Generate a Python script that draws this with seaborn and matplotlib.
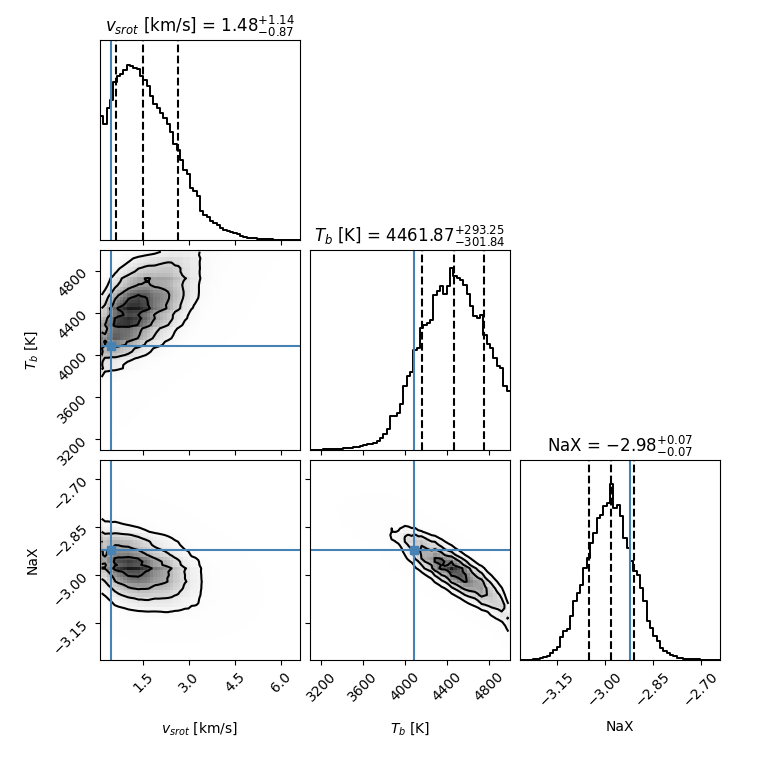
import math
import numpy as np
import pandas as pd
import matplotlib
matplotlib.use("Agg")
import matplotlib.pyplot as plt
from matplotlib.colors import LinearSegmentedColormap
import seaborn as sns

# ---------------- data ----------------
labels = ["$v_{srot}$ [km/s]", "$T_b$ [K]", "NaX"]
title_names = ["$v_{srot}$ [km/s]", "$T_b$ [K]", "NaX"]
medians = [1.48, 4461.87, -2.98]
err_plus = [1.14, 293.25, 0.07]
err_minus = [0.87, 301.84, 0.07]
ranges = [(0.087, 6.61), (3095.0, 5000.0), (-3.265, -2.64)]
truths = [0.45, 4083.0, -2.921]

ticks_vsrot = [1.5, 3.0, 4.5, 6.0]
ticks_tb = [3200, 3600, 4000, 4400, 4800]
ticks_nax = [-3.15, -3.00, -2.85, -2.70]
ticklabels_vsrot = ["1.5", "3.0", "4.5", "6.0"]
ticklabels_tb = ["3200", "3600", "4000", "4400", "4800"]
ticklabels_nax = ["\u22123.15", "\u22123.00", "\u22122.85", "\u22122.70"]

# marginal histograms (60 equal bins over each range), heights as read
hist_vsrot = [0.62, 0.58, 0.66, 0.70, 0.79, 0.82, 0.83, 0.85, 0.875, 0.87,
              0.86, 0.855, 0.82, 0.80, 0.77, 0.72, 0.68, 0.66, 0.635, 0.61,
              0.58, 0.54, 0.48, 0.45, 0.40, 0.35, 0.33, 0.26, 0.245, 0.22,
              0.145, 0.125, 0.115, 0.097, 0.085, 0.075, 0.06, 0.052, 0.045, 0.038,
              0.033, 0.028, 0.022, 0.017, 0.012, 0.010, 0.008, 0.006, 0.005, 0.004,
              0.003, 0.003, 0.002, 0.002, 0.0015, 0.001, 0.001, 0.0008, 0.0005, 0.0003]
hist_tb = [0.001, 0.001, 0.002, 0.002, 0.003, 0.003, 0.004, 0.005, 0.006, 0.007,
           0.008, 0.009, 0.011, 0.013, 0.015, 0.018, 0.024, 0.028, 0.032, 0.036,
           0.045, 0.06, 0.078, 0.105, 0.168, 0.168, 0.185, 0.23, 0.32, 0.37,
           0.39, 0.50, 0.51, 0.61, 0.627, 0.635, 0.652, 0.777, 0.793, 0.818,
           0.78, 0.82, 0.91, 0.868, 0.86, 0.852, 0.827, 0.78, 0.718, 0.668,
           0.66, 0.677, 0.577, 0.53, 0.51, 0.46, 0.42, 0.41, 0.318, 0.293]
hist_nax = [0.001, 0.001, 0.002, 0.002, 0.004, 0.006, 0.010, 0.015, 0.022, 0.035,
            0.052, 0.063, 0.113, 0.143, 0.157, 0.218, 0.293, 0.335, 0.377, 0.46,
            0.51, 0.585, 0.635, 0.71, 0.727, 0.768, 0.785, 0.88, 0.76, 0.775,
            0.72, 0.61, 0.56, 0.493, 0.443, 0.427, 0.36, 0.293, 0.193, 0.16,
            0.118, 0.093, 0.06, 0.043, 0.035, 0.027, 0.018, 0.012, 0.010, 0.007,
            0.005, 0.004, 0.003, 0.003, 0.002, 0.002, 0.001, 0.001, 0.001, 0.001]

rho_tb_vsrot = 0.45
rho_nax_vsrot = -0.30
rho_nax_tb = -0.84

# ---------------- helpers ----------------
hists = [hist_vsrot, hist_tb, hist_nax]
ticks = [ticks_vsrot, ticks_tb, ticks_nax]
ticklabels = [ticklabels_vsrot, ticklabels_tb, ticklabels_nax]
rhos = {(1, 0): rho_tb_vsrot, (2, 0): rho_nax_vsrot, (2, 1): rho_nax_tb}
truth_color = "#4682b4"

zt = np.linspace(-6, 6, 6001)
Ft = np.array([0.5 * math.erfc(-z / math.sqrt(2)) for z in zt])


def grid(k):
    h = np.asarray(hists[k], float)
    lo, hi = ranges[k]
    edges = np.linspace(lo, hi, len(h) + 1)
    centers = 0.5 * (edges[1:] + edges[:-1])
    p = h / h.sum()
    F = np.cumsum(p) - p / 2
    z = np.interp(F, Ft, zt)
    return h, edges, centers, p, z


def density2d(kx, ky):
    _, ex, cx, px, zx = grid(kx)
    _, ey, cy, py, zy = grid(ky)
    r = rhos[(ky, kx)]
    A, B = np.meshgrid(zx, zy, indexing="ij")
    c = np.exp(-(r * r * (A ** 2 + B ** 2) - 2 * r * A * B) / (2 * (1 - r * r))) / np.sqrt(1 - r * r)
    H = px[:, None] * py[None, :] * c
    return ex, ey, cx, cy, H


density_cmap = LinearSegmentedColormap.from_list("density_cmap", [(1, 1, 1, 0), (0, 0, 0, 1)])
levels = 1.0 - np.exp(-0.5 * np.arange(0.5, 2.1, 0.5) ** 2)

# ---------------- figure ----------------
fig, axes = plt.subplots(3, 3, figsize=(7.6, 7.6), dpi=100)
fig.subplots_adjust(left=1.0 / 7.6, right=7.2 / 7.6, bottom=1.0 / 7.6, top=7.2 / 7.6,
                    wspace=0.05, hspace=0.05)

K = 3
for i in range(K):
    for j in range(K):
        ax = axes[i, j]
        if j > i:
            ax.set_frame_on(False)
            ax.set_xticks([])
            ax.set_yticks([])
            continue
        if i == j:
            h, edges, centers, p, z = grid(i)
            df1 = pd.DataFrame({"x": centers, "w": h})
            sns.histplot(data=df1, x="x", weights="w", bins=len(h), binrange=ranges[i],
                         element="step", fill=False, color="k", linewidth=1.4, ax=ax)
            ax.set_xlim(ranges[i])
            ax.set_ylim(0, 1.0)
            ax.set_yticks([])
            for q in (medians[i] - err_minus[i], medians[i], medians[i] + err_plus[i]):
                ax.axvline(q, ls="dashed", color="k", lw=1.5)
            ax.axvline(truths[i], color=truth_color, lw=1.5)
            mtxt = f"{medians[i]:.2f}"
            ax.set_title(f"{title_names[i]} = ${mtxt}_{{-{err_minus[i]:.2f}}}^{{+{err_plus[i]:.2f}}}$",
                         fontsize=12)
        else:
            ex, ey, cx, cy, H = density2d(j, i)
            ax.pcolormesh(ex, ey, H.T, cmap=density_cmap, vmin=0, vmax=H.max() * 1.05)
            Hs = np.sort(H.flatten())[::-1]
            sm = np.cumsum(Hs)
            sm /= sm[-1]
            V = np.array([Hs[sm <= v][-1] if np.any(sm <= v) else Hs[0] for v in levels])
            V.sort()
            ax.contour(cx, cy, H.T, V, colors="k", linewidths=1.5)
            ax.axvline(truths[j], color=truth_color, lw=1.5)
            ax.axhline(truths[i], color=truth_color, lw=1.5)
            ax.plot(truths[j], truths[i], "s", color=truth_color, ms=6)
            ax.set_xlim(ranges[j])
            ax.set_ylim(ranges[i])
            ax.set_yticks(ticks[i])
            if j == 0:
                ax.set_yticklabels(ticklabels[i], rotation=45)
                ax.set_ylabel(labels[i], fontsize=10)
                ax.yaxis.set_label_coords(-0.3, 0.5)
            else:
                ax.set_yticklabels([])
                ax.set_ylabel("")
        ax.set_xticks(ticks[j])
        if i == K - 1:
            ax.set_xticklabels(ticklabels[j], rotation=45)
            ax.set_xlabel(labels[j], fontsize=10)
            ax.xaxis.set_label_coords(0.5, -0.3)
        else:
            ax.set_xticklabels([])
            ax.set_xlabel("")
        if i == j:
            ax.set_ylabel("")

fig.savefig("out.png", dpi=100)
